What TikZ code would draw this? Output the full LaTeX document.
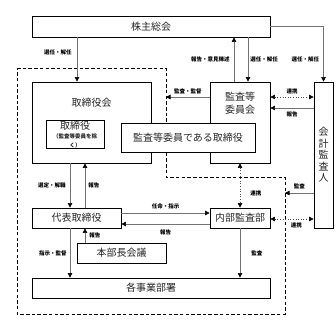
\documentclass[tikz,border=0pt]{standalone}
\usepackage{fontspec}
\setmainfont{Noto Sans CJK JP}
\usetikzlibrary{arrows.meta,calc,positioning}

\begin{document}
\begin{tikzpicture}[x=1pt, y=-1pt,
  box/.style={draw, line width=0.8pt, fill=white, inner sep=0pt, text=black!85, font=\fontsize{10}{12}\selectfont},
  txt/.style={inner sep=0pt, text=black!85, font=\fontsize{10}{13}\selectfont},
  lbl/.style={inner sep=0pt, font=\bfseries\fontsize{5.5}{6}\selectfont},
  arr/.style={draw=black!55, line width=0.6pt, -{Triangle[length=4.5pt,width=4.5pt,black]}},
  link/.style={draw=black!70, line width=0.6pt, dotted, {Triangle[length=4.5pt,width=4.5pt,black]}-{Triangle[length=4.5pt,width=4.5pt,black]}}]
\useasboundingbox (0,0) rectangle (336,320);
\def\dashw{0.8pt}

\coordinate (D1) at (17,68);
\coordinate (D2) at (166,68);
\coordinate (D3) at (166,177);
\coordinate (D4) at (285,177);
\coordinate (D5) at (285,314);
\coordinate (D6) at (17,314);
\draw[line width=\dashw, dash pattern=on 3.5pt off 2.2pt] (D1) -- (D2) -- (D3) -- (D4) -- (D5) -- (D6) -- cycle;

\node[box, minimum width=238, minimum height=21] (SH) at (151,26.5) {株主総会};

\node[box, minimum width=119, minimum height=81] (BD) at (91.5,122.5) {};
\node[txt] (BDt) [below=16pt of BD.north] {取締役会};

\node[box, minimum width=58, minimum height=25, align=center] (DR) at (75,134.5) {取締役\\[-3pt]{\bfseries\fontsize{5.5}{6}\selectfont （監査等委員を除}\\[-2.5pt]{\bfseries\fontsize{5.5}{6}\selectfont く）}};

\node[box, minimum width=60, minimum height=81] (AC) at (240,122.5) {};
\node[txt, align=center] (ACt) [below=10pt of AC.north] {監査等\\委員会};

\node[box, minimum width=134, minimum height=29] (AD) at (188,137.5) {監査等委員である取締役};

\node[box, minimum width=19, minimum height=146, align=center, font=\fontsize{10}{11.5}\selectfont] (EA) at (323.5,155) {会\\計\\監\\査\\人};

\node[box, minimum width=89, minimum height=20] (RD) at (76.5,218) {代表取締役};

\node[box, minimum width=60, minimum height=20] (IA) at (240,218) {内部監査部};

\node[box, minimum width=89, minimum height=20] (HM) at (121.5,253) {本部長会議};

\node[box, minimum width=238, minimum height=20] (BU) at (151,288) {各事業部署};

\coordinate (c1) at (77,0);
\coordinate (c2) at (234,0);
\coordinate (c3) at (248,0);
\coordinate (c4) at (0,97);
\coordinate (c5) at (0,108);
\coordinate (c6) at (70,0);
\coordinate (c7) at (85,0);
\coordinate (c8) at (0,213);
\coordinate (c9) at (0,224);
\coordinate (c10) at (0,193);
\coordinate (c11) at (0,219);

\draw[arr] (SH.south -| c1) -- node[lbl, pos=0.33, left=5pt] {選任・解任} (BD.north -| c1);
\draw[arr] (AC.north -| c2) -- node[lbl, left=4pt] {報告・意見陳述} (SH.south -| c2);
\draw[arr] (SH.south -| c3) -- node[lbl, right=2pt] {選任・解任} (AC.north -| c3);
\draw[arr] (SH.east) -| node[lbl, pos=0.8, left=4pt] {選任・解任} (EA.north);

\draw[arr] (AC.west |- c4) -- node[lbl, above=3pt] {監査・監督} (D2 |- c4);
\draw[link] (AC.east |- c4) -- node[lbl, above=3pt] {連携} (EA.west |- c4);
\draw[arr] (EA.west |- c5) -- node[lbl, below=3pt] {報告} (AC.east |- c5);

\draw[arr] (BD.south -| c6) -- node[lbl, left=4pt] {選定・解職} (RD.north -| c6);
\draw[arr] (RD.north -| c7) -- node[lbl, right=3pt] {報告} (BD.south -| c7);
\draw[arr] (RD.south -| c6) -- node[lbl, left=3pt] {指示・監督} (BU.north -| c6);
\draw[arr] (HM.north -| c7) -- node[lbl, right=4pt] {報告} (RD.south -| c7);

\draw[arr] (RD.east |- c8) -- node[lbl, above=4pt] {任命・指示} (IA.west |- c8);
\draw[arr] (IA.west |- c9) -- node[lbl, below=5pt] {報告} (RD.east |- c9);

\draw[link] (AC.south) -- node[lbl, pos=0.67, right=10pt] {連携} (IA.north);
\draw[arr] (EA.west |- c10) -- node[lbl, above=4pt] {監査} (D4 |- c10);
\draw[link] (IA.east |- c11) -- node[lbl, pos=0.6, below=3pt] {連携} (EA.west |- c11);
\draw[arr] (IA.south) -- node[lbl, right=11pt] {監査} (BU.north -| IA.south);
\end{tikzpicture}
\end{document}
